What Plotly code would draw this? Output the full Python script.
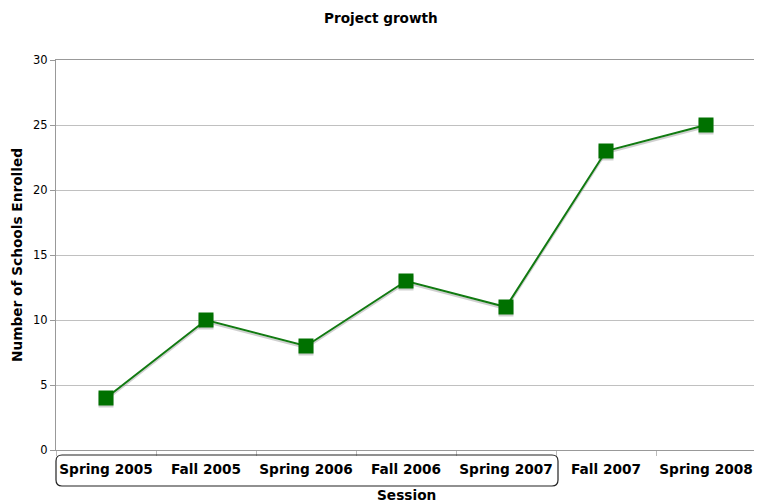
import plotly.graph_objects as go

sessions = ["Spring 2005", "Fall 2005", "Spring 2006", "Fall 2006",
            "Spring 2007", "Fall 2007", "Spring 2008"]
schools = [4, 10, 8, 13, 11, 23, 25]

# page has an 8px body margin; work in screen pixels and offset
OFF = 8
W, H = 762 - OFF, 502 - OFF
P_L, P_R, P_T, P_B = 56, 756, 60, 450          # plot area, screen px
ML, MT = P_L - OFF, P_T - OFF
MR, MB = W - (P_R - OFF), H - (P_B - OFF)
PW, PH = P_R - P_L, P_B - P_T
shadow_off = 2 * 30 / PH  # ~2px drop shadow in data units
FONT = "DejaVu Sans, Verdana, sans-serif"


def px_x(sx):
    return (sx - P_L) / PW


def px_y(sy):
    return (P_B - sy) / PH


fig = go.Figure()
fig.add_trace(go.Scatter(
    x=sessions, y=[v - shadow_off for v in schools], mode="lines+markers",
    line=dict(color="rgba(150,150,150,0.45)", width=2),
    marker=dict(symbol="square", size=15, color="rgba(150,150,150,0.45)"),
    hoverinfo="skip", showlegend=False))
fig.add_trace(go.Scatter(
    x=sessions, y=schools, mode="lines+markers",
    line=dict(color="#117a11", width=2),
    marker=dict(symbol="square", size=15, color="#007100"),
    showlegend=False))

# rounded box around first five category labels
x0, x1 = px_x(56), px_x(558)
y0, y1 = px_y(486), px_y(455)
rx, ry = 6 / PW, 6 / PH
path = (f"M {x0+rx},{y1} L {x1-rx},{y1} Q {x1},{y1} {x1},{y1-ry} "
        f"L {x1},{y0+ry} Q {x1},{y0} {x1-rx},{y0} L {x0+rx},{y0} "
        f"Q {x0},{y0} {x0},{y0+ry} L {x0},{y1-ry} Q {x0},{y1} {x0+rx},{y1} Z")
fig.add_shape(type="path", path=path, xref="paper", yref="paper",
              line=dict(color="#222222", width=1.2), fillcolor="rgba(0,0,0,0)")

annots = [
    dict(text="<b>Project growth</b>", xref="paper", yref="paper",
         x=px_x(381), y=px_y(18), xanchor="center",
         yanchor="middle", showarrow=False, font=dict(size=13.6, family=FONT)),
    dict(text="<b>Session</b>", xref="paper", yref="paper",
         x=0.5, y=px_y(495), xanchor="center", yanchor="middle",
         showarrow=False, font=dict(size=13.7, family=FONT)),
    dict(text="<b>Number of Schools Enrolled</b>", xref="paper", yref="paper",
         x=px_x(17), y=0.5, xanchor="center", yanchor="middle",
         textangle=-90, showarrow=False, font=dict(size=13.7, family=FONT)),
]

fig.update_layout(
    width=W, height=H,
    margin=dict(l=ML, r=MR, t=MT, b=MB, autoexpand=False),
    paper_bgcolor="white", plot_bgcolor="white",
    font=dict(family=FONT, color="black"),
    annotations=annots,
    xaxis=dict(
        type="category", tickson="boundaries", showgrid=False, automargin=False,
        ticks="outside", ticklen=5, tickcolor="#bbbbbb", tickangle=0,
        ticklabelstandoff=7,
        showline=True, linecolor="#999999", linewidth=1, mirror=True,
        tickfont=dict(size=13.7, family=FONT),
        tickprefix="<b>", ticksuffix="</b>",
        range=[-0.5, len(sessions) - 0.5],
    ),
    yaxis=dict(
        range=[0, 30], dtick=5, showgrid=True, gridcolor="#c0c0c0",
        automargin=False,
        ticks="outside", ticklen=5, tickcolor="#999999",
        showline=True, linecolor="#999999", linewidth=1, mirror=True,
        zeroline=False, tickfont=dict(size=11.5),
    ),
)

fig.write_html("out.html")
